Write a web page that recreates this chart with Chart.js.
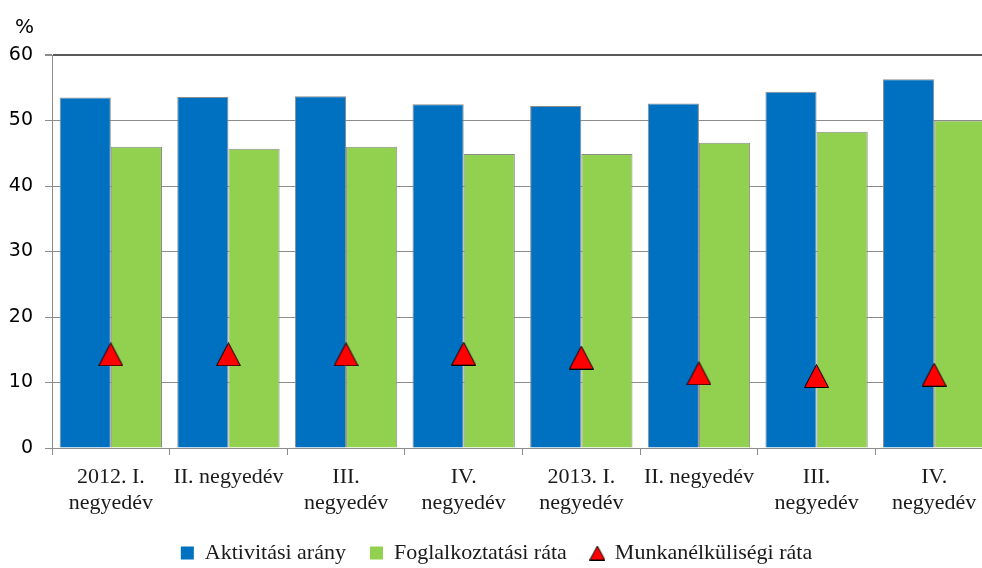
<!DOCTYPE html>
<html>
<head>
<meta charset="utf-8">
<script src="https://cdn.jsdelivr.net/npm/chart.js@4/dist/chart.umd.min.js"></script>
<style>
    html, body { margin: 0; padding: 0; background: #fff; overflow: hidden; }
    #keret { width: 1000px; height: 574px; position: relative; }
</style>
</head>
<body>
<div id="keret"><canvas id="oszlopDiagram"></canvas></div>
<script>
// negyedevek (tengelyfeliratok, sortoressel)
var negyedevek = [
    ['2012. I.', 'negyedév'],
    ['II. negyedév'],
    ['III.', 'negyedév'],
    ['IV.', 'negyedév'],
    ['2013. I.', 'negyedév'],
    ['II. negyedév'],
    ['III.', 'negyedév'],
    ['IV.', 'negyedév']
];

var aktivitasiArany = [53.5, 53.6, 53.7, 52.5, 52.2, 52.6, 54.4, 56.3];
var foglalkoztatasiRata = [46.0, 45.7, 46.0, 44.9, 44.9, 46.6, 48.3, 50.0];
var munkanelkulisegiRata = [14.3, 14.3, 14.3, 14.4, 13.8, 11.4, 11.0, 11.2];

var yMin = 0;
var yMax = 60;
var yLepes = 10;

var betuSerif = "'Liberation Serif', 'DejaVu Serif', serif";
var betuSans = "'DejaVu Sans', Verdana, sans-serif";

// piros haromszog jelolo (kep), hogy kozepre keruljon az ertekre
function haromszog(w, h) {
    var c = document.createElement('canvas');
    c.width = w;
    c.height = h;
    var ctx = c.getContext('2d');
    ctx.beginPath();
    ctx.moveTo(w / 2, 0.5);
    ctx.lineTo(w - 0.5, h - 0.5);
    ctx.lineTo(0.5, h - 0.5);
    ctx.closePath();
    ctx.fillStyle = '#ff0000';
    ctx.fill();
    ctx.strokeStyle = '#000000';
    ctx.lineWidth = 1;
    ctx.stroke();
    return c;
}

var jeloloNagy = haromszog(25, 24);
var jeloloKicsi = haromszog(16, 15);

// a "%" felirat a tengely felett
var szazalekPlugin = {
    id: 'szazalek',
    afterDraw: function (chart) {
        var ctx = chart.ctx;
        ctx.save();
        ctx.fillStyle = '#000';
        ctx.font = "20px " + betuSans;
        ctx.textAlign = 'left';
        ctx.textBaseline = 'alphabetic';
        ctx.fillText('%', 15, 33);
        ctx.restore();
    }
};

new Chart(document.getElementById('oszlopDiagram'), {
    type: 'bar',
    data: {
        labels: negyedevek,
        datasets: [
            {
                label: 'Aktivitási arány',
                data: aktivitasiArany,
                backgroundColor: '#0070c0',
                borderColor: '#8c8c8c',
                borderWidth: 1,
                categoryPercentage: 0.87,
                barPercentage: 1.0,
                order: 2
            },
            {
                label: 'Foglalkoztatási ráta',
                data: foglalkoztatasiRata,
                backgroundColor: '#92d050',
                borderColor: '#8c8c8c',
                borderWidth: 1,
                categoryPercentage: 0.87,
                barPercentage: 1.0,
                order: 3
            },
            {
                type: 'line',
                label: 'Munkanélküliségi ráta',
                data: munkanelkulisegiRata,
                showLine: false,
                pointStyle: jeloloNagy,
                backgroundColor: '#ff0000',
                borderColor: '#000000',
                order: 1
            }
        ]
    },
    options: {
        responsive: true,
        maintainAspectRatio: false,
        animation: false,
        layout: {
            padding: { top: 55, left: 0, right: 7, bottom: 0 }
        },
        scales: {
            x: {
                offset: true,
                afterFit: function (scale) { scale.height = 70; },
                grid: {
                    offset: true,
                    drawOnChartArea: false,
                    drawTicks: true,
                    tickLength: 7,
                    color: '#8c8c8c'
                },
                border: { display: true, color: '#8c8c8c' },
                ticks: {
                    color: '#1a1a1a',
                    padding: 10,
                    maxRotation: 0,
                    autoSkip: false,
                    font: { family: betuSerif, size: 22, lineHeight: 1.15 }
                }
            },
            y: {
                min: yMin,
                max: yMax,
                afterFit: function (scale) { scale.width = 52; },
                grid: {
                    tickLength: 7,
                    tickColor: '#8c8c8c',
                    color: function (c) { return c.tick && c.tick.value == yMax ? '#595959' : '#8c8c8c'; },
                    lineWidth: function (c) { return c.tick && c.tick.value == yMax ? 2 : 1; }
                },
                border: { display: true, color: '#8c8c8c' },
                ticks: {
                    stepSize: yLepes,
                    padding: 12,
                    color: '#000',
                    font: { family: betuSans, size: 19 }
                }
            }
        },
        plugins: {
            tooltip: { enabled: false },
            legend: {
                position: 'bottom',
                labels: {
                    usePointStyle: true,
                    boxWidth: 13,
                    boxHeight: 13,
                    padding: 24,
                    color: '#1a1a1a',
                    font: { family: betuSerif, size: 22 },
                    sort: function (a, b) { return a.datasetIndex - b.datasetIndex; },
                    generateLabels: function (chart) {
                        var elemek = Chart.defaults.plugins.legend.labels.generateLabels(chart);
                        for (var elem of elemek) {
                            if (elem.datasetIndex == 2) {
                                elem.pointStyle = jeloloKicsi;
                            } else {
                                elem.pointStyle = 'rect';
                                elem.lineWidth = 0;
                            }
                        }
                        return elemek;
                    }
                }
            }
        }
    },
    plugins: [szazalekPlugin]
});
</script>
</body>
</html>
